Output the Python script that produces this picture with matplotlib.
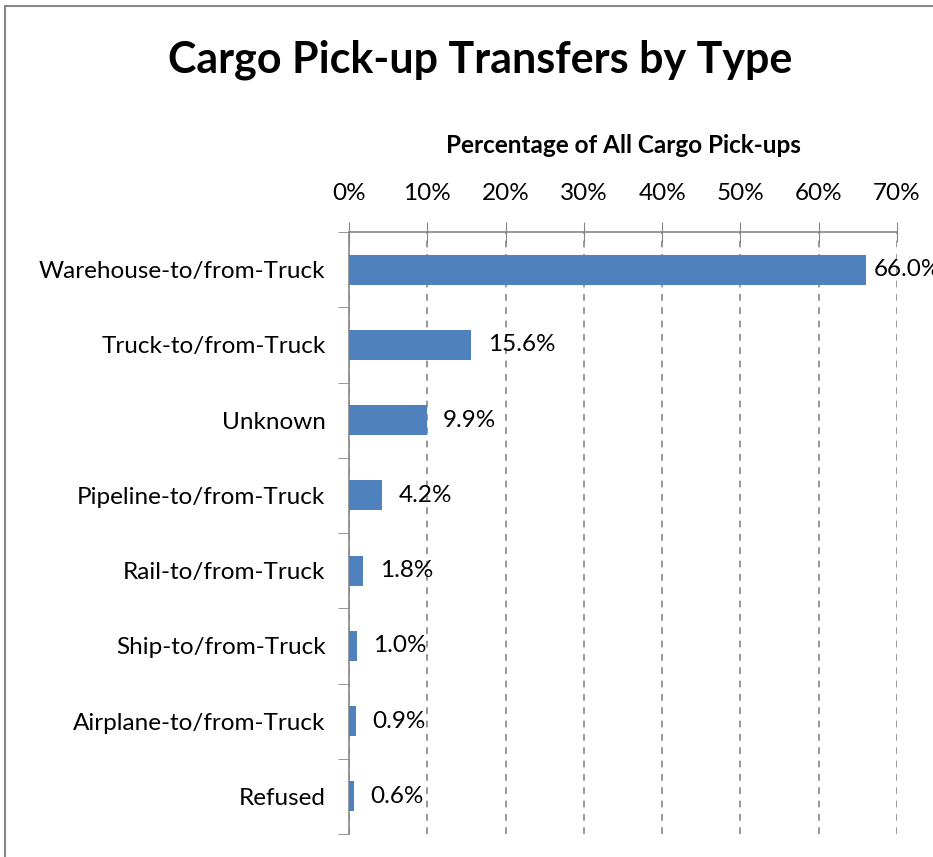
import matplotlib.pyplot as plt
import numpy as np
from matplotlib.lines import Line2D

categories = ['Warehouse-to/from-Truck', 'Truck-to/from-Truck', 'Unknown', 'Pipeline-to/from-Truck',
              'Rail-to/from-Truck', 'Ship-to/from-Truck', 'Airplane-to/from-Truck', 'Refused']
values = [66.0, 15.6, 9.9, 4.2, 1.8, 1.0, 0.9, 0.6]
xticks = [0, 10, 20, 30, 40, 50, 60, 70]

plt.rcParams['font.family'] = ['Lato', 'DejaVu Sans']
grey = '#868686'
fs = 17.5

fig = plt.figure(figsize=(9.33, 8.57), dpi=100)
ax = fig.add_axes([349 / 933, 1 - 834 / 857, (897 - 349) / 933, (834 - 232) / 857])

# chart border (cropped on right/bottom)
bx, by = 5 / 933, 1 - 6 / 857
fig.lines.append(Line2D([bx, bx], [0, by], transform=fig.transFigure, color=grey, linewidth=1.5))
fig.lines.append(Line2D([bx, 1], [by, by], transform=fig.transFigure, color=grey, linewidth=1.5))

y_pos = np.arange(len(categories))
ax.barh(y_pos, values, height=0.4, color='#4F81BD', zorder=3)
for y, v in zip(y_pos, values):
    off = 6 if v > 60 else 12  # Excel squeezes the long label in
    ax.annotate(f'{v:.1f}%', (v, y), xytext=(off, 0), textcoords='offset points',
                va='center', ha='left', fontsize=fs, zorder=4, annotation_clip=False)

ax.set_xlim(0, 70)
ax.set_ylim(len(categories) - 0.5, -0.5)
ax.xaxis.tick_top()
ax.xaxis.set_label_position('top')
ax.set_xticks(xticks)
ax.set_xticklabels([f'{t}%' for t in xticks], fontsize=fs)
ax.tick_params(axis='x', direction='inout', length=14, color=grey, pad=13)
ax.set_xlabel('Percentage of All Cargo Pick-ups', fontsize=fs, fontweight='bold', labelpad=22)

ax.set_yticks(y_pos)
ax.set_yticklabels(categories, fontsize=fs)
ax.tick_params(axis='y', which='major', length=0, pad=17)
ax.set_yticks(np.arange(-0.5, len(categories)), minor=True)
ax.tick_params(axis='y', which='minor', direction='out', length=8, color=grey)

ax.grid(axis='x', linestyle=(0, (4, 4)), color=grey, linewidth=1.2, zorder=0)
for s in ['right', 'bottom']:
    ax.spines[s].set_visible(False)
ax.spines['top'].set_color(grey)
ax.spines['left'].set_color(grey)
ax.spines['top'].set_linewidth(1.2)
ax.spines['left'].set_linewidth(1.2)

fig.text(480 / 933, 1 - 60 / 857, 'Cargo Pick-up Transfers by Type', ha='center', va='center',
         fontsize=31, fontweight='bold')

plt.savefig('out.png', dpi=100)
